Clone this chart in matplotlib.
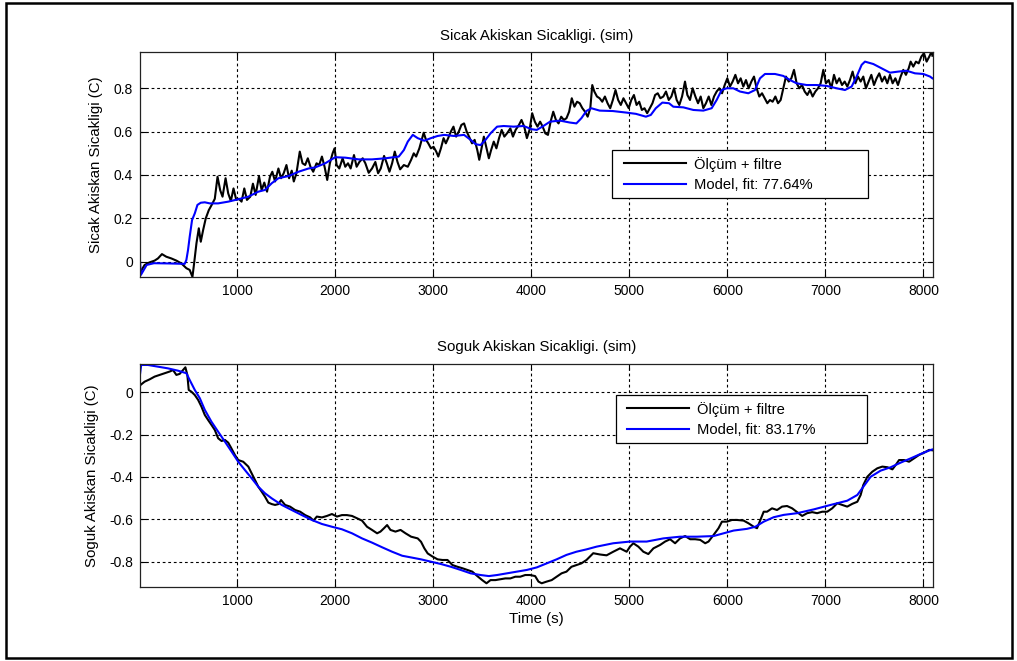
import matplotlib
matplotlib.use("Agg")
import matplotlib.pyplot as plt
from matplotlib.patches import Rectangle

plt.rcParams['font.family'] = ['Liberation Sans', 'DejaVu Sans']
plt.rcParams['axes.unicode_minus'] = False

# ---- Hot fluid: filtered measurement ----
hot_meas_t = [0, 14, 55, 106, 157, 191, 232, 276, 328, 379, 430, 481, 515, 543, 560, 584, 608, 628,
              652, 679, 710, 737, 771, 799, 826, 850, 881, 908, 935, 962, 990, 1017, 1044, 1072,
              1099, 1133, 1160, 1188, 1222, 1249, 1276, 1304, 1334, 1358, 1386, 1420, 1447, 1474,
              1502, 1529, 1556, 1577, 1604, 1638, 1666, 1693, 1720, 1747, 1775, 1809, 1836, 1864,
              1891, 1918, 1945, 1973, 1993, 2014, 2041, 2075, 2102, 2130, 2157, 2191, 2218, 2246,
              2280, 2307, 2341, 2375, 2409, 2437, 2464, 2498, 2526, 2553, 2580, 2607, 2635, 2662,
              2700, 2740, 2774, 2801, 2825, 2858, 2882, 2902, 2926, 2949, 2976, 3003, 3030, 3051,
              3078, 3105, 3128, 3152, 3179, 3206, 3233, 3260, 3287, 3314, 3341, 3368, 3395, 3422,
              3449, 3469, 3496, 3516, 3543, 3567, 3590, 3617, 3644, 3671, 3698, 3725, 3752, 3786,
              3813, 3840, 3874, 3900, 3928, 3955, 3982, 4009, 4036, 4063, 4090, 4116, 4143, 4170,
              4197, 4224, 4251, 4278, 4305, 4332, 4359, 4386, 4413, 4440, 4467, 4494, 4521, 4548,
              4575, 4602, 4622, 4643, 4670, 4697, 4724, 4751, 4778, 4805, 4832, 4859, 4886, 4913,
              4940, 4967, 4994, 5020, 5047, 5074, 5101, 5128, 5155, 5182, 5209, 5236, 5263, 5290,
              5317, 5347, 5374, 5402, 5429, 5456, 5483, 5510, 5538, 5568, 5592, 5619, 5646, 5674,
              5701, 5728, 5755, 5782, 5810, 5837, 5864, 5891, 5918, 5946, 5973, 6000, 6027, 6054,
              6082, 6109, 6136, 6163, 6190, 6218, 6245, 6272, 6299, 6326, 6354, 6381, 6408, 6435,
              6462, 6490, 6517, 6544, 6571, 6598, 6626, 6653, 6680, 6707, 6734, 6762, 6789, 6816,
              6843, 6870, 6898, 6925, 6952, 6979, 7006, 7034, 7061, 7088, 7115, 7142, 7170, 7197,
              7224, 7251, 7278, 7306, 7333, 7360, 7387, 7414, 7442, 7469, 7496, 7523, 7550, 7578,
              7605, 7632, 7659, 7686, 7714, 7741, 7768, 7795, 7822, 7850, 7870, 7897, 7924, 7952,
              7979, 8006, 8033, 8060, 8084, 8092]
hot_meas_v = [-0.040, -0.046, -0.015, -0.003, 0.005, 0.015, 0.035, 0.023, 0.015, 0.005, -0.008,
              -0.030, -0.038, -0.070, -0.008, 0.085, 0.154, 0.092, 0.146, 0.200, 0.238, 0.260,
              0.290, 0.392, 0.330, 0.300, 0.385, 0.315, 0.280, 0.338, 0.285, 0.290, 0.277, 0.338,
              0.285, 0.300, 0.360, 0.308, 0.395, 0.330, 0.365, 0.323, 0.392, 0.415, 0.370, 0.430,
              0.385, 0.408, 0.446, 0.385, 0.420, 0.370, 0.408, 0.508, 0.454, 0.446, 0.477, 0.438,
              0.415, 0.454, 0.446, 0.485, 0.438, 0.377, 0.454, 0.500, 0.523, 0.446, 0.430, 0.477,
              0.438, 0.454, 0.430, 0.492, 0.438, 0.460, 0.477, 0.454, 0.410, 0.430, 0.460, 0.408,
              0.430, 0.488, 0.454, 0.415, 0.454, 0.508, 0.460, 0.426, 0.446, 0.438, 0.470, 0.500,
              0.485, 0.523, 0.562, 0.595, 0.562, 0.546, 0.523, 0.530, 0.508, 0.485, 0.523, 0.570,
              0.546, 0.570, 0.600, 0.623, 0.577, 0.600, 0.631, 0.638, 0.600, 0.574, 0.546, 0.562,
              0.515, 0.470, 0.530, 0.577, 0.523, 0.477, 0.515, 0.554, 0.523, 0.570, 0.608, 0.577,
              0.592, 0.615, 0.577, 0.608, 0.631, 0.654, 0.623, 0.570, 0.608, 0.685, 0.646, 0.623,
              0.646, 0.623, 0.592, 0.585, 0.646, 0.692, 0.654, 0.638, 0.669, 0.654, 0.662, 0.692,
              0.754, 0.715, 0.738, 0.731, 0.708, 0.692, 0.669, 0.708, 0.815, 0.785, 0.762, 0.754,
              0.738, 0.762, 0.731, 0.708, 0.746, 0.792, 0.746, 0.723, 0.754, 0.731, 0.708, 0.746,
              0.769, 0.723, 0.738, 0.700, 0.708, 0.685, 0.708, 0.731, 0.769, 0.777, 0.754, 0.762,
              0.785, 0.746, 0.762, 0.800, 0.746, 0.723, 0.762, 0.831, 0.769, 0.746, 0.800, 0.762,
              0.731, 0.762, 0.708, 0.731, 0.762, 0.723, 0.762, 0.785, 0.800, 0.777, 0.815, 0.846,
              0.808, 0.831, 0.862, 0.823, 0.846, 0.808, 0.838, 0.800, 0.831, 0.854, 0.800, 0.762,
              0.777, 0.754, 0.731, 0.746, 0.738, 0.762, 0.731, 0.746, 0.800, 0.854, 0.831, 0.846,
              0.885, 0.823, 0.800, 0.815, 0.785, 0.769, 0.792, 0.762, 0.785, 0.800, 0.823, 0.885,
              0.823, 0.838, 0.800, 0.862, 0.823, 0.846, 0.815, 0.831, 0.808, 0.838, 0.877, 0.823,
              0.854, 0.831, 0.854, 0.800, 0.831, 0.862, 0.815, 0.846, 0.869, 0.831, 0.854, 0.823,
              0.862, 0.823, 0.846, 0.815, 0.854, 0.885, 0.862, 0.892, 0.923, 0.900, 0.923, 0.915,
              0.946, 0.962, 0.923, 0.946, 0.970, 0.950]

# ---- Hot fluid: model output ----
hot_model_t = [0, 17, 76, 150, 300, 464, 481, 498, 515, 539, 567, 594, 628, 669, 720, 805, 908,
               1010, 1113, 1215, 1283, 1352, 1420, 1522, 1625, 1727, 1795, 1898, 2000, 2102, 2239,
               2375, 2512, 2648, 2700, 2740, 2791, 2841, 2909, 2976, 3044, 3111, 3212, 3314, 3381,
               3432, 3482, 3533, 3584, 3651, 3718, 3820, 3921, 4005, 4056, 4123, 4191, 4292, 4393,
               4460, 4511, 4562, 4612, 4697, 4832, 4967, 5068, 5169, 5219, 5270, 5337, 5405, 5449,
               5551, 5653, 5755, 5840, 5891, 5942, 5993, 6061, 6129, 6214, 6282, 6333, 6384, 6486,
               6571, 6639, 6707, 6809, 6911, 7013, 7115, 7200, 7268, 7319, 7370, 7404, 7489, 7574,
               7659, 7744, 7829, 7914, 8000, 8068, 8092]
hot_model_v = [0.062, -0.061, -0.015, -0.007, -0.008, -0.010, 0.008, 0.054, 0.115, 0.192, 0.223,
               0.262, 0.272, 0.274, 0.269, 0.269, 0.277, 0.288, 0.300, 0.323, 0.331, 0.362, 0.385,
               0.395, 0.415, 0.430, 0.435, 0.454, 0.482, 0.480, 0.472, 0.472, 0.477, 0.485, 0.515,
               0.554, 0.585, 0.570, 0.558, 0.570, 0.580, 0.585, 0.580, 0.585, 0.562, 0.542, 0.538,
               0.562, 0.592, 0.623, 0.626, 0.623, 0.626, 0.611, 0.608, 0.626, 0.646, 0.651, 0.642,
               0.638, 0.662, 0.695, 0.708, 0.697, 0.695, 0.688, 0.682, 0.669, 0.677, 0.708, 0.734,
               0.731, 0.715, 0.712, 0.700, 0.697, 0.708, 0.746, 0.792, 0.800, 0.800, 0.785, 0.777,
               0.792, 0.846, 0.866, 0.866, 0.857, 0.838, 0.823, 0.815, 0.815, 0.811, 0.800, 0.792,
               0.808, 0.854, 0.908, 0.923, 0.912, 0.892, 0.872, 0.877, 0.881, 0.869, 0.866, 0.854,
               0.846]

# ---- Cold fluid: filtered measurement ----
cold_meas_t = [0, 14, 55, 106, 157, 208, 259, 311, 345, 379, 413, 447, 471, 491, 505, 532, 567,
               601, 635, 669, 703, 737, 771, 805, 840, 874, 908, 935, 976, 1010, 1061, 1113, 1147,
               1181, 1215, 1249, 1283, 1317, 1352, 1386, 1420, 1447, 1488, 1539, 1590, 1642, 1693,
               1744, 1778, 1812, 1864, 1915, 1966, 2017, 2068, 2119, 2171, 2222, 2273, 2324, 2375,
               2427, 2461, 2495, 2529, 2563, 2614, 2666, 2717, 2774, 2841, 2875, 2909, 2943, 2993,
               3044, 3094, 3145, 3196, 3246, 3297, 3347, 3398, 3449, 3499, 3543, 3584, 3634, 3685,
               3735, 3786, 3837, 3887, 3938, 3988, 4039, 4073, 4106, 4157, 4208, 4258, 4309, 4359,
               4410, 4460, 4511, 4563, 4632, 4700, 4768, 4836, 4905, 4973, 5007, 5041, 5092, 5143,
               5194, 5246, 5314, 5365, 5416, 5467, 5518, 5569, 5621, 5672, 5723, 5774, 5808, 5859,
               5910, 5945, 5996, 6047, 6098, 6166, 6217, 6269, 6303, 6337, 6371, 6405, 6456, 6507,
               6558, 6609, 6661, 6712, 6763, 6814, 6865, 6916, 6968, 7019, 7070, 7121, 7172, 7223,
               7274, 7326, 7360, 7387, 7428, 7479, 7530, 7581, 7633, 7684, 7718, 7752, 7803, 7854,
               7905, 7956, 8008, 8059, 8092]
cold_meas_v = [0.026, 0.035, 0.050, 0.061, 0.074, 0.082, 0.090, 0.098, 0.105, 0.082, 0.087, 0.105,
               0.118, 0.082, 0.011, 0.003, -0.013, -0.036, -0.068, -0.107, -0.131, -0.154, -0.178,
               -0.217, -0.230, -0.225, -0.238, -0.260, -0.296, -0.320, -0.328, -0.351, -0.383,
               -0.414, -0.446, -0.469, -0.493, -0.521, -0.528, -0.532, -0.528, -0.509, -0.532,
               -0.540, -0.556, -0.564, -0.580, -0.591, -0.606, -0.587, -0.591, -0.584, -0.575,
               -0.587, -0.580, -0.580, -0.584, -0.595, -0.606, -0.635, -0.650, -0.666, -0.658,
               -0.643, -0.627, -0.650, -0.658, -0.650, -0.666, -0.682, -0.690, -0.706, -0.737,
               -0.761, -0.776, -0.789, -0.792, -0.792, -0.816, -0.824, -0.831, -0.839, -0.847,
               -0.868, -0.887, -0.902, -0.887, -0.887, -0.883, -0.879, -0.879, -0.871, -0.871,
               -0.863, -0.863, -0.868, -0.894, -0.902, -0.894, -0.887, -0.871, -0.855, -0.847,
               -0.824, -0.816, -0.808, -0.792, -0.760, -0.766, -0.770, -0.753, -0.737, -0.753,
               -0.729, -0.713, -0.729, -0.753, -0.764, -0.737, -0.721, -0.705, -0.694, -0.713,
               -0.690, -0.679, -0.694, -0.694, -0.697, -0.713, -0.705, -0.674, -0.642, -0.611,
               -0.611, -0.603, -0.603, -0.606, -0.619, -0.635, -0.642, -0.603, -0.564, -0.564,
               -0.548, -0.556, -0.540, -0.537, -0.548, -0.566, -0.584, -0.571, -0.566, -0.571,
               -0.564, -0.564, -0.548, -0.524, -0.532, -0.540, -0.527, -0.517, -0.485, -0.438,
               -0.399, -0.375, -0.359, -0.351, -0.354, -0.364, -0.343, -0.320, -0.320, -0.328,
               -0.312, -0.296, -0.285, -0.272, -0.274]

# ---- Cold fluid: model output ----
cold_model_t = [0, 20, 89, 191, 293, 396, 481, 515, 567, 618, 669, 737, 805, 874, 942, 1010, 1078,
                1147, 1215, 1283, 1352, 1454, 1556, 1659, 1761, 1864, 1966, 2068, 2171, 2273, 2375,
                2478, 2580, 2683, 2774, 2875, 2976, 3078, 3179, 3280, 3381, 3482, 3567, 3651, 3752,
                3853, 3955, 4056, 4157, 4258, 4359, 4460, 4562, 4666, 4836, 5007, 5177, 5348, 5518,
                5689, 5859, 5962, 6064, 6200, 6286, 6371, 6473, 6575, 6712, 6882, 7053, 7223, 7326,
                7394, 7462, 7564, 7667, 7769, 7871, 7973, 8076, 8092]
cold_model_v = [0.055, 0.129, 0.129, 0.121, 0.113, 0.102, 0.090, 0.058, 0.011, -0.028, -0.083,
                -0.139, -0.186, -0.233, -0.280, -0.328, -0.367, -0.406, -0.446, -0.477, -0.501,
                -0.532, -0.556, -0.580, -0.603, -0.622, -0.635, -0.647, -0.666, -0.690, -0.710,
                -0.732, -0.753, -0.772, -0.780, -0.789, -0.800, -0.811, -0.824, -0.839, -0.855,
                -0.863, -0.868, -0.863, -0.855, -0.847, -0.839, -0.827, -0.808, -0.789, -0.768,
                -0.753, -0.742, -0.729, -0.713, -0.705, -0.705, -0.690, -0.682, -0.682, -0.679,
                -0.666, -0.653, -0.645, -0.635, -0.611, -0.590, -0.579, -0.571, -0.553, -0.532,
                -0.512, -0.485, -0.442, -0.399, -0.370, -0.354, -0.332, -0.312, -0.291, -0.272,
                -0.270]

x_ticks = [1000, 2000, 3000, 4000, 5000, 6000, 7000, 8000]
hot_yticks = [0, 0.2, 0.4, 0.6, 0.8]
cold_yticks = [-0.8, -0.6, -0.4, -0.2, 0]

hot_title = "Sicak Akiskan Sicakligi. (sim)"
cold_title = "Soguk Akiskan Sicakligi. (sim)"
hot_ylabel = "Sicak Akiskan Sicakligi (C)"
cold_ylabel = "Soguk Akiskan Sicakligi (C)"
meas_label = "Ölçüm + filtre"
hot_fit_label = "Model, fit: 77.64%"
cold_fit_label = "Model, fit: 83.17%"

TICK_FS = 10.0
LABEL_FS = 10.8
LEG_FS = 10.6
W, H = 1017, 661
fig = plt.figure(figsize=(W / 100, H / 100), dpi=100)
fig.patch.set_facecolor('white')

# outer frame around the figure
fig.patches.append(Rectangle((6 / W, 3 / H), 1006 / W, 655 / H, transform=fig.transFigure,
                             fill=False, edgecolor='black', linewidth=1.8))


def style_axes(ax, yticks, ylim):
    ax.set_xlim(8, 8093)
    ax.set_ylim(*ylim)
    ax.set_xticks(x_ticks)
    ax.set_xticklabels([str(t) for t in x_ticks], fontsize=TICK_FS)
    ax.set_yticks(yticks)
    ax.set_yticklabels([f"{v:g}" for v in yticks], fontsize=TICK_FS)
    ax.tick_params(direction='in', length=4, width=0.8, top=True, right=True, pad=5,
                   colors='black')
    ax.grid(True, color='black', linestyle=(0, (2.5, 2.5)), linewidth=0.8)
    for sp in ax.spines.values():
        sp.set_linewidth(0.9)
        sp.set_color('#222222')


def boxed_legend(ax, box, handle_left, first_row_y):
    """Legend with a MATLAB-like rectangular frame given in pixel coordinates."""
    x0, y0, x1, y1 = box
    frame = Rectangle((x0 / W, 1 - y1 / H), (x1 - x0) / W, (y1 - y0) / H,
                      transform=fig.transFigure, facecolor='white', edgecolor='black',
                      linewidth=0.9, zorder=8, clip_on=False)
    ax.add_artist(frame)
    em = LEG_FS * 100 / 72
    leg = ax.legend(loc='upper left',
                    bbox_to_anchor=(handle_left / W, 1 - (first_row_y - em * 0.5) / H),
                    bbox_transform=fig.transFigure, fontsize=LEG_FS, frameon=False,
                    borderaxespad=0, borderpad=0, handlelength=4.2, handletextpad=0.55,
                    labelspacing=0.45)
    leg.set_zorder(9)
    return leg


ax1 = fig.add_axes([140 / W, 1 - 277 / H, 792.5 / W, 224.7 / H])
ax1.plot(hot_meas_t, hot_meas_v, color='black', linewidth=1.5, label=meas_label)
ax1.plot(hot_model_t, hot_model_v, color='#0000ff', linewidth=1.5, label=hot_fit_label)
style_axes(ax1, hot_yticks, (-0.0706, 0.966))
ax1.set_title(hot_title, fontsize=LABEL_FS, pad=9)
ax1.set_ylabel(hot_ylabel, fontsize=LABEL_FS)
ax1.yaxis.set_label_coords(-0.047, 0.5)
boxed_legend(ax1, (612, 150, 868, 198), 624, 164)

ax2 = fig.add_axes([140 / W, 1 - 587.3 / H, 792.5 / W, 223.6 / H])
ax2.plot(cold_meas_t, cold_meas_v, color='black', linewidth=1.5, label=meas_label)
ax2.plot(cold_model_t, cold_model_v, color='#0000ff', linewidth=1.5, label=cold_fit_label)
style_axes(ax2, cold_yticks, (-0.921, 0.135))
ax2.set_title(cold_title, fontsize=LABEL_FS, pad=9)
ax2.set_ylabel(cold_ylabel, fontsize=LABEL_FS)
ax2.yaxis.set_label_coords(-0.052, 0.5)
ax2.set_xlabel("Time (s)", fontsize=LABEL_FS, labelpad=3)
boxed_legend(ax2, (616, 395, 867, 443), 627, 409)

fig.savefig("out.png", dpi=100)
